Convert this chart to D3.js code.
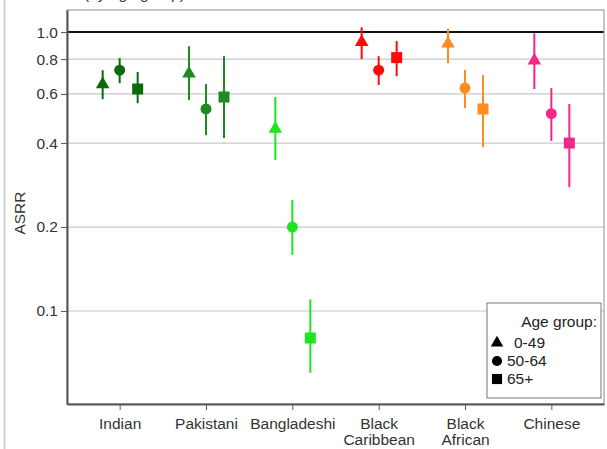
<!DOCTYPE html>
<html>
<head>
<meta charset="utf-8">
<script src="https://cdn.jsdelivr.net/npm/d3@7"></script>
<style>
  body { margin: 0; background: #fff; }
  svg { display: block; font-family: "Liberation Sans", Arial, sans-serif; }
</style>
</head>
<body>
<svg id="chart" width="607" height="449"></svg>
<script>
// ethnic groups on the x axis
var groups = ["Indian", "Pakistani", "Bangladeshi", "Black Caribbean", "Black African", "Chinese"];
var groupColors = ["#0b6a0b", "#1f8a1f", "#1ee61e", "#ff0a0a", "#ff8c1e", "#f0288c"];
var ageGroups = ["0-49", "50-64", "65+"];
var yTicks = [0.1, 0.2, 0.4, 0.6, 0.8, 1.0];

// ASRR estimates per age group (same order as groups)
var est0_49  = [0.65, 0.71, 0.45, 0.92, 0.91, 0.79];
var est50_64 = [0.73, 0.53, 0.20, 0.73, 0.63, 0.51];
var est65    = [0.625, 0.585, 0.080, 0.81, 0.53, 0.40];
// confidence intervals
var low0_49  = [0.575, 0.57, 0.348, 0.80, 0.774, 0.625];
var high0_49 = [0.73, 0.89, 0.585, 1.04, 1.03, 0.99];
var low50_64  = [0.656, 0.427, 0.159, 0.646, 0.534, 0.407];
var high50_64 = [0.807, 0.651, 0.250, 0.820, 0.731, 0.630];
var low65  = [0.556, 0.417, 0.060, 0.695, 0.387, 0.278];
var high65 = [0.719, 0.820, 0.110, 0.929, 0.701, 0.552];

var series = [
  {age: ageGroups[0], est: est0_49, lo: low0_49, hi: high0_49, shape: d3.symbolTriangle, size: 80, off: -17},
  {age: ageGroups[1], est: est50_64, lo: low50_64, hi: high50_64, shape: d3.symbolCircle, size: 95, off: 0},
  {age: ageGroups[2], est: est65, lo: low65, hi: high65, shape: d3.symbolSquare, size: 121, off: 18}
];

var fs = "15.5px";
var margin = {top: 10, right: 3, bottom: 45, left: 67},
    width = 607 - margin.left - margin.right,
    height = 449 - margin.top - margin.bottom;

var svg = d3.select("#chart");

// page edge line and title (cropped at the top, as in the source)
svg.append("line").attr("x1", 4.5).attr("x2", 4.5).attr("y1", 0).attr("y2", 449)
  .style("stroke", "#cfcfcf").style("stroke-width", 2);
svg.append("text").attr("x", 84).attr("y", -1.5).text("(by age group)")
  .style("font-size", fs).style("fill", "#333");

var g = svg.append("g").attr("transform", "translate(" + margin.left + "," + margin.top + ")");

var x = d3.scalePoint().domain(groups).range([0, width]).padding(0.61);
var y = d3.scaleLog().domain([0.0464, 1.2]).range([height, 0]);

// grid
g.selectAll(".grid").data(yTicks).enter().append("line")
  .attr("x1", 0).attr("x2", width)
  .attr("y1", function(d) { return y(d); }).attr("y2", function(d) { return y(d); })
  .style("stroke", function(d) { return d === 1 ? "#111" : "#c8c8c8"; })
  .style("stroke-width", function(d) { return d === 1 ? 2 : 1.2; });

// frame
g.append("rect").attr("width", width).attr("height", height)
  .style("fill", "none").style("stroke", "#8a8a8a").style("stroke-width", 1);

// y axis
var yAxis = g.append("g").attr("class", "axis--y")
  .call(d3.axisLeft(y).tickValues(yTicks).tickFormat(d3.format(".1f")).tickSize(6).tickSizeOuter(0).tickPadding(3));
yAxis.select(".domain").style("stroke", "#555").style("stroke-width", 2);
yAxis.selectAll("line").style("stroke", "#555");
yAxis.selectAll("text").style("font-size", fs).style("fill", "#333");

// x axis
var xAxis = g.append("g").attr("class", "axis--x")
  .attr("transform", "translate(0," + height + ")")
  .call(d3.axisBottom(x).tickSize(6).tickSizeOuter(0).tickFormat(""));
xAxis.select(".domain").style("stroke", "#555").style("stroke-width", 2);
xAxis.selectAll("line").style("stroke", "#555");
xAxis.selectAll(".tick").each(function(d) {
  var words = d.split(" ");
  var t = d3.select(this).append("text").attr("y", 25)
    .style("font-size", fs).style("fill", "#333").style("text-anchor", "middle");
  words.forEach(function(w, i) {
    t.append("tspan").attr("x", 0).attr("dy", i === 0 ? 0 : 16).text(w);
  });
});

g.append("text").attr("transform", "rotate(-90)")
  .attr("x", -(y(0.2) - 14)).attr("y", -42)
  .style("text-anchor", "middle").style("font-size", fs).style("fill", "#333")
  .text("ASRR");

// error bars and markers
series.forEach(function(s) {
  var pts = g.append("g").selectAll("g").data(groups).enter().append("g");
  pts.append("line")
    .attr("x1", function(d) { return x(d) + s.off; })
    .attr("x2", function(d) { return x(d) + s.off; })
    .attr("y1", function(d, i) { return y(s.lo[i]); })
    .attr("y2", function(d, i) { return y(s.hi[i]); })
    .style("stroke", function(d, i) { return groupColors[i]; })
    .style("stroke-width", 2);
  pts.append("path")
    .attr("d", d3.symbol().type(s.shape).size(s.size))
    .attr("transform", function(d, i) { return "translate(" + (x(d) + s.off) + "," + y(s.est[i]) + ")"; })
    .style("fill", function(d, i) { return groupColors[i]; });
});

// legend
var lg = g.append("g").attr("transform", "translate(" + (487 - margin.left) + "," + (303 - margin.top) + ")");
lg.append("rect").attr("width", 114).attr("height", 95)
  .style("fill", "#fff").style("stroke", "#777").style("stroke-width", 1);
lg.append("text").attr("x", 110).attr("y", 24).style("text-anchor", "end")
  .style("font-size", fs).style("fill", "#222").text("Age group:");
series.forEach(function(s, i) {
  var yy = 40 + i * 18;
  lg.append("path").attr("d", d3.symbol().type(s.shape).size(s.size * 0.85))
    .attr("transform", "translate(10," + yy + ")").style("fill", "#000");
  lg.append("text").attr("x", i === 0 ? 27 : 20).attr("y", yy + 5)
    .style("font-size", fs).style("fill", "#222").text(s.age);
});
</script>
</body>
</html>
